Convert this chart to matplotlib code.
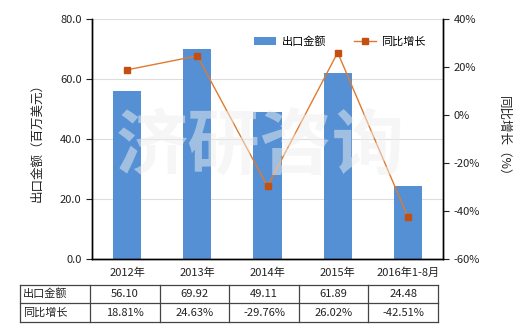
import matplotlib
matplotlib.use("Agg")
import matplotlib.pyplot as plt
import numpy as np

plt.rcParams["font.family"] = ["Noto Sans CJK SC", "DejaVu Sans"]
plt.rcParams["font.size"] = 8

# data
categories = ["2012年", "2013年", "2014年", "2015年", "2016年1-8月"]
export_value = [56.10, 69.92, 49.11, 61.89, 24.48]
yoy_growth = [18.81, 24.63, -29.76, 26.02, -42.51]
export_labels = ["56.10", "69.92", "49.11", "61.89", "24.48"]
growth_labels = ["18.81%", "24.63%", "-29.76%", "26.02%", "-42.51%"]
row_names = ["出口金额", "同比增长"]

BAR = "#5590D5"
LINE = "#E07A2E"
MARK = "#C4500F"
INK = "#222222"

fig = plt.figure(figsize=(5.2, 3.3), dpi=100)
ax = fig.add_axes([92 / 520, 71 / 330, 351 / 520, 240 / 330])
ax2 = ax.twinx()

x = np.arange(len(categories))
ax.bar(x, export_value, width=0.4, color=BAR, zorder=2, label="出口金额")
ax2.plot(x, yoy_growth, color=LINE, linewidth=1.0, marker="s", markersize=4.5,
         markerfacecolor=MARK, markeredgecolor=MARK, zorder=3, label="同比增长")

ax.set_xlim(-0.5, len(categories) - 0.5)
ax.set_ylim(0, 80)
ax.set_yticks(np.arange(0, 81, 20))
ax.set_yticklabels([f"{v:.1f}" for v in np.arange(0, 81, 20)])
ax2.set_ylim(-60, 40)
ax2.set_yticks(np.arange(-60, 41, 20))
ax2.set_yticklabels([f"{v}%" for v in np.arange(-60, 41, 20)])

ax.yaxis.grid(True, color="#DDDDDD", linewidth=0.8, zorder=0)
ax.set_axisbelow(True)
ax.set_xticks(x)
ax.set_xticklabels(categories)
ax.tick_params(axis="x", length=0, pad=6, colors=INK, labelsize=8)
ax.tick_params(axis="y", length=4, colors=INK, labelsize=8)
ax2.tick_params(axis="y", length=4, colors=INK, labelsize=8)

for a in (ax, ax2):
    a.spines["top"].set_visible(False)
    for s in ("left", "right", "bottom"):
        a.spines[s].set_color("black")
        a.spines[s].set_linewidth(1.0)

ax.set_ylabel("出口金额（百万美元）", fontsize=9, color=INK, labelpad=12)
ax2.set_ylabel("同比增长（%）", fontsize=9, color=INK, rotation=-90, labelpad=22)

# watermark
fig.text(0.5, 0.55, "济研咨询", fontsize=52, color="#EEEEEE", ha="center",
         va="center", zorder=0, alpha=0.5, fontweight="bold")

h1, l1 = ax.get_legend_handles_labels()
h2, l2 = ax2.get_legend_handles_labels()
ax.legend(h1 + h2, l1 + l2, loc="upper right", bbox_to_anchor=(0.98, 0.97),
          ncol=2, frameon=False, fontsize=8, handlelength=2.0,
          columnspacing=2.5, handletextpad=0.5)

# data table under the chart
x0, xfirst, xend = 20, 90, 438
col_w = (xend - xfirst) / len(categories)
ys = [285, 303, 322]
W, H = 520, 330
tab_kw = dict(color="#444444", linewidth=0.9, transform=fig.transFigure)
for y in ys:
    fig.add_artist(plt.Line2D([x0 / W, xend / W], [1 - y / H, 1 - y / H], **tab_kw))
for xv in [x0, xfirst] + [xfirst + col_w * (i + 1) for i in range(len(categories))]:
    fig.add_artist(plt.Line2D([xv / W, xv / W], [1 - ys[0] / H, 1 - ys[-1] / H], **tab_kw))

for r, (name, vals) in enumerate(zip(row_names, [export_labels, growth_labels])):
    yc = 1 - (ys[r] + ys[r + 1]) / 2 / H
    fig.text((x0 + 3) / W, yc, name, ha="left", va="center", fontsize=8, color=INK)
    for i, v in enumerate(vals):
        fig.text((xfirst + col_w * (i + 0.5)) / W, yc, v, ha="center",
                 va="center", fontsize=8, color=INK)

fig.savefig("out.png", dpi=100)
